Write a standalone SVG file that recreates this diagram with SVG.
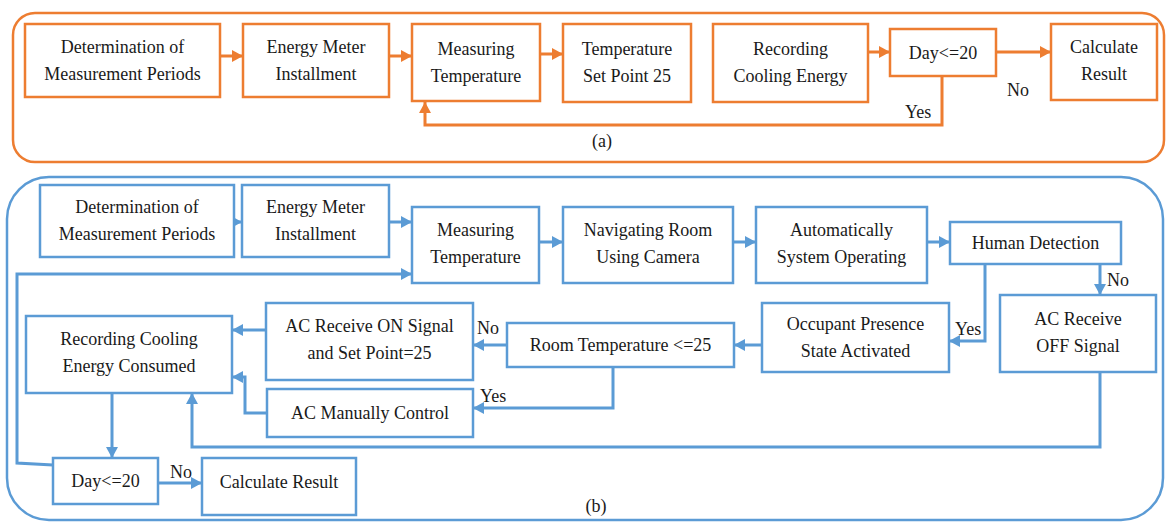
<svg xmlns="http://www.w3.org/2000/svg" width="1166" height="523" viewBox="0 0 1166 523">
<defs>
<style>
text{font-size:18px;fill:#1a1a1a;text-anchor:middle}
text.l{text-anchor:start}
.bo{fill:#fff;stroke:#ED7D31;stroke-width:2.5}
.bb{fill:#fff;stroke:#5B9BD5;stroke-width:2.5}
.co{fill:none;stroke:#ED7D31;stroke-width:3}
.cb{fill:none;stroke:#5B9BD5;stroke-width:3}
</style>
<marker id="ao" markerUnits="userSpaceOnUse" markerWidth="12" markerHeight="12" refX="11" refY="6" orient="auto"><path d="M0,0 L11,6 L0,12 Z" fill="#ED7D31"/></marker>
<marker id="ab" markerUnits="userSpaceOnUse" markerWidth="12" markerHeight="12" refX="11" refY="6" orient="auto"><path d="M0,0 L11,6 L0,12 Z" fill="#5B9BD5"/></marker>
</defs>
<rect width="1166" height="523" fill="#fff"/>
<g font-family="'Liberation Serif', 'DejaVu Serif', 'Times New Roman', serif">

<!-- panel (a) -->
<rect x="13" y="13" width="1151" height="149" rx="22" fill="none" stroke="#ED7D31" stroke-width="2.5"/>
<g id="connectors-a">
<path class="co" d="M220,56 H243" marker-end="url(#ao)"/>
<path class="co" d="M389,56 H412" marker-end="url(#ao)"/>
<path class="co" d="M540,54 H563" marker-end="url(#ao)"/>
<path class="co" d="M868,52 H890" marker-end="url(#ao)"/>
<path class="co" d="M996,52 H1051" marker-end="url(#ao)"/>
<path class="co" d="M942,76 V125 H425 V102" marker-end="url(#ao)"/>
<text class="l" x="905" y="118">Yes</text>
<text class="l" x="1007" y="96">No</text>
</g>
<g id="a-det"><rect class="bo" x="25" y="24" width="195" height="73"/><text x="122.5" y="53">Determination of</text><text x="122.5" y="80">Measurement Periods</text></g>
<g id="a-meter"><rect class="bo" x="243" y="24" width="146" height="73"/><text x="316" y="53">Energy Meter</text><text x="316" y="80">Installment</text></g>
<g id="a-measure"><rect class="bo" x="412" y="24" width="128" height="77"/><text x="476" y="55">Measuring</text><text x="476" y="82">Temperature</text></g>
<g id="a-setpoint"><rect class="bo" x="563" y="24" width="128" height="78"/><text x="627" y="55">Temperature</text><text x="627" y="82">Set Point 25</text></g>
<g id="a-record"><rect class="bo" x="713" y="24" width="155" height="78"/><text x="790.5" y="55">Recording</text><text x="790.5" y="82">Cooling Energy</text></g>
<g id="a-day"><rect class="bo" x="890" y="29" width="106" height="47"/><text x="943" y="58.5">Day&lt;=20</text></g>
<g id="a-calc"><rect class="bo" x="1051" y="24" width="106" height="76"/><text x="1104" y="53">Calculate</text><text x="1104" y="80">Result</text></g>
<text x="602" y="147">(a)</text>

<!-- panel (b) -->
<rect x="7" y="177" width="1156" height="343" rx="42" fill="none" stroke="#5B9BD5" stroke-width="2.5"/>
<g id="connectors-b">
<path class="cb" d="M234,222 H242" marker-end="url(#ab)"/>
<path class="cb" d="M389,222 H412" marker-end="url(#ab)"/>
<path class="cb" d="M53,465 L17,463 V274 H412" marker-end="url(#ab)"/>
<path class="cb" d="M539,242 H563" marker-end="url(#ab)"/>
<path class="cb" d="M733,242 H756" marker-end="url(#ab)"/>
<path class="cb" d="M927,242 H950" marker-end="url(#ab)"/>
<path class="cb" d="M1100,264 V295" marker-end="url(#ab)"/>
<path class="cb" d="M985,264 V341 H949" marker-end="url(#ab)"/>
<path class="cb" d="M762,345 H734" marker-end="url(#ab)"/>
<path class="cb" d="M507,345 H473" marker-end="url(#ab)"/>
<path class="cb" d="M613,367 V408 H473" marker-end="url(#ab)"/>
<path class="cb" d="M266,330 H232" marker-end="url(#ab)"/>
<path class="cb" d="M267,413 H245 V377 H232" marker-end="url(#ab)"/>
<path class="cb" d="M1100,372 V447 H192 V393" marker-end="url(#ab)"/>
<path class="cb" d="M112,393 V458" marker-end="url(#ab)"/>
<path class="cb" d="M158,483 H202" marker-end="url(#ab)"/>
<text class="l" x="1107" y="286">No</text>
<text class="l" x="955" y="335">Yes</text>
<text class="l" x="477" y="334">No</text>
<text class="l" x="480" y="402">Yes</text>
<text class="l" x="170" y="478">No</text>
</g>
<g id="b-det"><rect class="bb" x="40" y="185" width="194" height="72"/><text x="137" y="213">Determination of</text><text x="137" y="240">Measurement Periods</text></g>
<g id="b-meter"><rect class="bb" x="242" y="185" width="147" height="72"/><text x="315.5" y="213">Energy Meter</text><text x="315.5" y="240">Installment</text></g>
<g id="b-measure"><rect class="bb" x="412" y="207" width="127" height="76"/><text x="475.5" y="236">Measuring</text><text x="475.5" y="263">Temperature</text></g>
<g id="b-camera"><rect class="bb" x="563" y="207" width="170" height="76"/><text x="648" y="236">Navigating Room</text><text x="648" y="263">Using Camera</text></g>
<g id="b-auto"><rect class="bb" x="756" y="207" width="171" height="76"/><text x="841.5" y="236">Automatically</text><text x="841.5" y="263">System Operating</text></g>
<g id="b-human"><rect class="bb" x="950" y="222" width="171" height="42"/><text x="1035.5" y="249">Human Detection</text></g>
<g id="b-off"><rect class="bb" x="1000" y="295" width="156" height="77"/><text x="1078" y="325">AC Receive</text><text x="1078" y="352">OFF Signal</text></g>
<g id="b-occupant"><rect class="bb" x="762" y="303" width="187" height="69"/><text x="855.5" y="330">Occupant Presence</text><text x="855.5" y="357">State Activated</text></g>
<g id="b-roomtemp"><rect class="bb" x="507" y="323" width="227" height="44"/><text x="620.5" y="351">Room Temperature &lt;=25</text></g>
<g id="b-on"><rect class="bb" x="266" y="303" width="207" height="77"/><text x="369.5" y="332">AC Receive ON Signal</text><text x="369.5" y="359">and Set Point=25</text></g>
<g id="b-manual"><rect class="bb" x="267" y="389" width="206" height="48"/><text x="370" y="419">AC Manually Control</text></g>
<g id="b-record"><rect class="bb" x="26" y="316" width="206" height="77"/><text x="129" y="345">Recording Cooling</text><text x="129" y="372">Energy Consumed</text></g>
<g id="b-day"><rect class="bb" x="53" y="458" width="105" height="46"/><text x="105.5" y="487">Day&lt;=20</text></g>
<g id="b-calc"><rect class="bb" x="202" y="458" width="154" height="57"/><text x="279" y="488">Calculate Result</text></g>
<text x="596" y="512">(b)</text>
</g>
</svg>
